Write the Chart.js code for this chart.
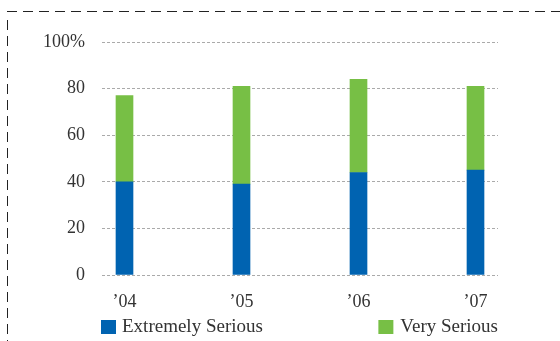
<!DOCTYPE html>
<html>
<head>
<meta charset="utf-8">
<script src="https://cdn.jsdelivr.net/npm/chart.js@4"></script>
<style>
  html, body { margin: 0; padding: 0; background: #fff; }
  #wrap { width: 560px; height: 341px; position: relative; }
</style>
</head>
<body>
<div id="wrap"><canvas id="myChart"></canvas></div>
<script>
const years = ["\u201904", "\u201905", "\u201906", "\u201907"]
const extremelySerious = [40, 39, 44, 45]
const verySerious = [37, 42, 40, 36]
const yTicks = [0, 20, 40, 60, 80, 100]

const fontFamily = "'Liberation Serif', serif"
const textColor = "#333"
const fontSize = 18

// dashed frame along the top and left edges
const framePlugin = {
    id: "frame",
    beforeDraw(chart) {
        const c = chart.ctx
        c.save()
        c.strokeStyle = "#222"
        c.lineWidth = 1
        c.setLineDash([10, 6])
        c.beginPath()
        c.moveTo(7, 11.5)
        c.lineTo(chart.width, 11.5)
        c.moveTo(7.5, 20)
        c.lineTo(7.5, chart.height)
        c.stroke()
        c.restore()
    },
}

// legend: first item at the left of the plot, second one flush right
const splitLegend = {
    id: "splitLegend",
    afterDraw(chart) {
        const c = chart.ctx
        const area = chart.chartArea
        const y = 327
        c.save()
        c.font = "19px " + fontFamily
        c.textBaseline = "middle"
        const sets = chart.data.datasets
        // left item
        c.fillStyle = sets[0].backgroundColor
        c.fillRect(area.left - 1, y - 7, 15, 14)
        c.fillStyle = textColor
        c.fillText(sets[0].label, area.left + 20, y)
        // right item
        const w = c.measureText(sets[1].label).width
        const tx = area.right - w
        c.fillStyle = sets[1].backgroundColor
        c.fillRect(tx - 22, y - 7, 15, 14)
        c.fillStyle = textColor
        c.fillText(sets[1].label, tx, y)
        c.restore()
    },
}

const ctx = document.getElementById("myChart").getContext("2d")

new Chart(ctx, {
    type: "bar",
    data: {
        datasets: [
            {
                label: "Extremely Serious",
                data: extremelySerious.map((v, i) => ({ x: i, y: v })),
                backgroundColor: "#0063b1",
                barThickness: 17,
            },
            {
                label: "Very Serious",
                data: verySerious.map((v, i) => ({ x: i, y: v })),
                backgroundColor: "#77bf45",
                barThickness: 17,
            },
        ],
    },
    options: {
        responsive: true,
        maintainAspectRatio: false,
        animation: false,
        layout: {
            padding: { top: 42, right: 62, left: 0, bottom: 32 },
        },
        scales: {
            x: {
                type: "linear",
                stacked: true,
                offset: false,
                min: -0.1923,
                max: 3.1923,
                afterBuildTicks: (scale) => {
                    scale.ticks = years.map((_, i) => ({ value: i }))
                },
                afterFit: (scale) => {
                    scale.height = 34
                },
                grid: { display: false, drawTicks: false },
                border: { display: false },
                ticks: {
                    autoSkip: false,
                    maxRotation: 0,
                    padding: 16,
                    color: textColor,
                    font: { family: fontFamily, size: fontSize },
                    callback: (v) => years[v],
                },
            },
            y: {
                stacked: true,
                min: 0,
                max: 100,
                afterBuildTicks: (scale) => {
                    scale.ticks = yTicks.map((v) => ({ value: v }))
                },
                afterFit: (scale) => {
                    scale.width = 102
                },
                grid: { color: "#aaa", drawTicks: false, lineWidth: 1 },
                border: { display: false, dash: [3, 2] },
                ticks: {
                    autoSkip: false,
                    padding: 17,
                    color: textColor,
                    font: { family: fontFamily, size: fontSize },
                    callback: (v) => (v === 100 ? "100%" : v),
                },
            },
        },
        plugins: {
            legend: { display: false },
            tooltip: { enabled: false },
        },
    },
    plugins: [framePlugin, splitLegend],
})
</script>
</body>
</html>
